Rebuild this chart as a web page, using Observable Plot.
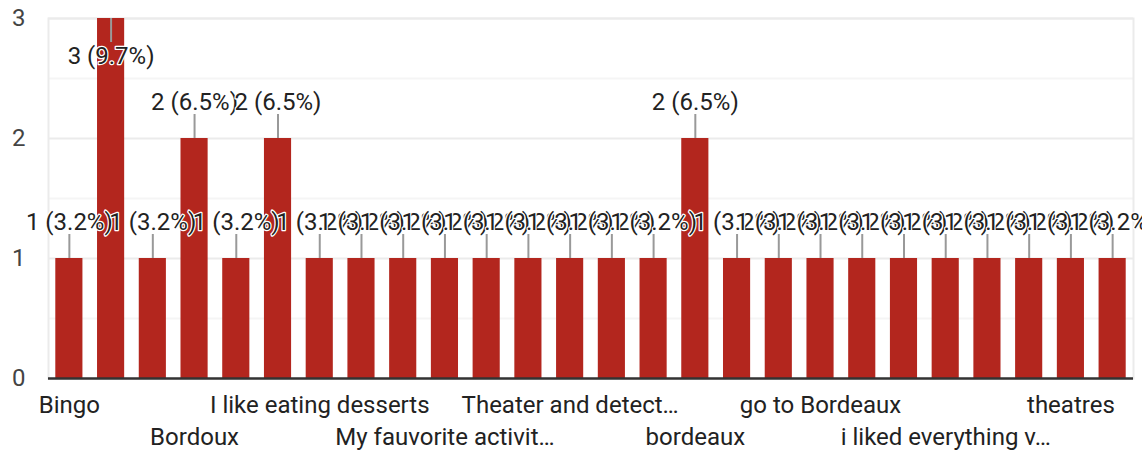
<!DOCTYPE html>
<html>
<head>
<meta charset="utf-8">
<script src="https://cdn.jsdelivr.net/npm/d3@7"></script>
<script src="https://cdn.jsdelivr.net/npm/@observablehq/plot@0.6"></script>
<style>
  html, body { margin: 0; padding: 0; background: #fff; overflow: hidden; }
  #chart svg { display: block; }
</style>
</head>
<body>
<div id="chart"></div>
<script>
// Answers (sorted as in the source chart); only some labels are visible on the axis
const categories = [
  "Bingo", "Bordeaux", "Bordeaux city", "Bordoux", "Cooking", "Dune du Pilat",
  "I like eating desserts", "Karting", "Museums", "My fauvorite activit…", "Paris", "Shopping",
  "Theater and detect…", "Theatre", "Visiting", "bordeaux", "bowling", "cinema",
  "go to Bordeaux", "going to the beach", "horse riding", "i liked everything v…", "museums", "shopping",
  "theatres", "visiting the city"
];
const counts = [1, 3, 1, 2, 1, 2, 1, 1, 1, 1, 1, 1, 1, 1, 1, 2, 1, 1, 1, 1, 1, 1, 1, 1, 1, 1];
const labelsRow1 = ["Bingo", "I like eating desserts", "Theater and detect…", "go to Bordeaux", "theatres"];
const labelsRow2 = ["Bordoux", "My fauvorite activit…", "bordeaux", "i liked everything v…"];
const yTicks = [0, 1, 2, 3];
const majorGrid = [1, 2, 3];
const minorGrid = [0.5, 1.5, 2.5];
const yMax = 3;

const total = d3.sum(counts);
const data = categories.map((c, i) => ({
  category: c,
  value: counts[i],
  label: `${counts[i]} (${(counts[i] / total * 100).toFixed(1)}%)`
}));
const inside = data.filter(d => d.value >= yMax);
const above = data.filter(d => d.value < yMax);

const barColor = "#b3261e";
const W = 1142, H = 452, mL = 48, mR = 9, mT = 18, mB = 74;

const chart = Plot.plot({
  width: W,
  height: H,
  marginLeft: mL,
  marginRight: mR,
  marginTop: mT,
  marginBottom: mB,
  style: { fontFamily: "Roboto, 'Liberation Sans', Arial, sans-serif", fontSize: "24px", background: "#fff", overflow: "visible" },
  x: { domain: categories, padding: 0, round: false, range: [mL, W - mR], label: null },
  y: { domain: [0, yMax], range: [H - mB, mT], label: null },
  marks: [
    Plot.ruleY(minorGrid, { stroke: "#f5f5f5", strokeWidth: 2 }),
    Plot.ruleY(majorGrid, { stroke: "#ebebeb", strokeWidth: 2 }),
    Plot.frame({ stroke: "#ebebeb", strokeWidth: 2 }),
    Plot.barY(data, { x: "category", y: "value", fill: barColor, insetLeft: 7.3, insetRight: 7.3 }),
    Plot.ruleY([0], { stroke: "#333", strokeWidth: 2.5 }),
    Plot.axisY(yTicks, { tickSize: 0, tickPadding: 23, fontSize: 24, color: "#444", tickFormat: d3.format("d") }),
    Plot.axisX(labelsRow1, { tickSize: 0, tickPadding: 17, fontSize: 24, color: "#222" }),
    Plot.axisX(labelsRow2, { tickSize: 0, tickPadding: 49, fontSize: 24, color: "#222" }),
    // annotation stems
    Plot.ruleX(above, { x: "category", y1: "value", y2: "value", insetTop: -24, stroke: "#999", strokeWidth: 2 }),
    Plot.ruleX(inside, { x: "category", y1: "value", y2: "value", insetBottom: -24, stroke: "#999", strokeWidth: 2 }),
    // annotation labels with white halo
    Plot.text(above, { x: "category", y: "value", text: "label", dy: -36, fontSize: 24, fill: "#222", stroke: "#fff", strokeWidth: 2.5 }),
    Plot.text(inside, { x: "category", y: "value", text: "label", dy: 38, fontSize: 24, fill: "#222", stroke: "#fff", strokeWidth: 2.5 })
  ]
});
document.getElementById("chart").append(chart);
</script>
</body>
</html>
